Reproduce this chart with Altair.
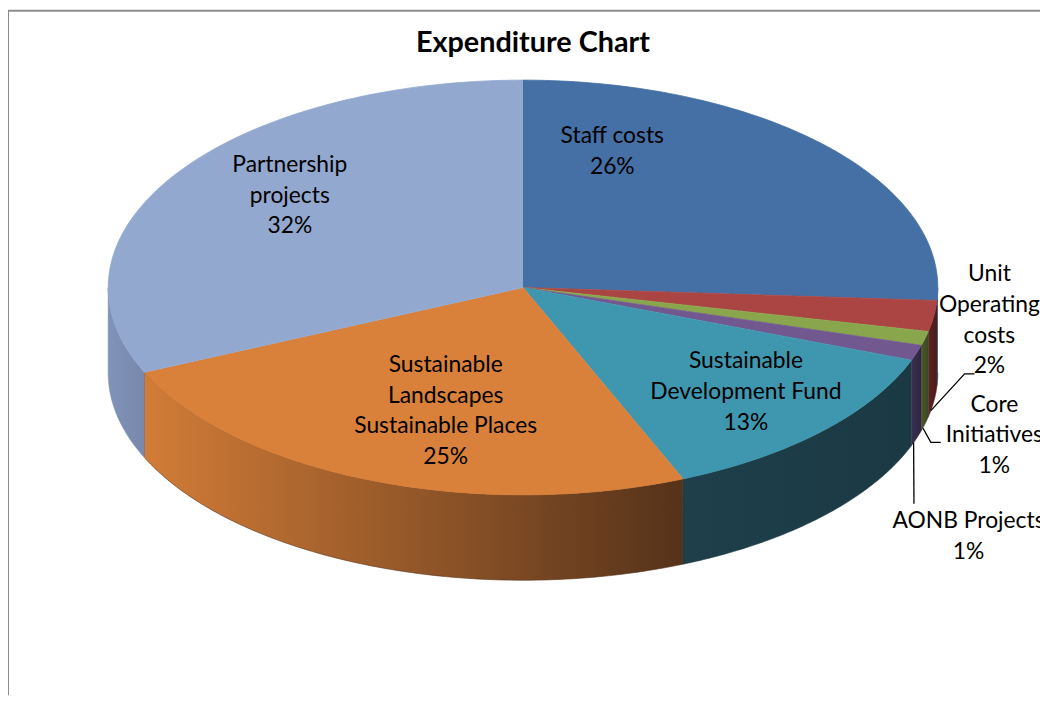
import altair as alt
import pandas as pd

# ---------------- data ----------------
categories = [
    "Staff costs",
    "Unit Operating costs",
    "Core Initiatives",
    "AONB Projects",
    "Sustainable Development Fund",
    "Sustainable Landscapes Sustainable Places",
    "Partnership projects",
]
# shares in %, estimated from the slice boundaries (labels show them rounded)
values = [26.0, 2.4, 1.1, 1.2, 13.0, 24.6, 31.7]
label_text = [
    "Staff costs",
    "Unit\nOperating\ncosts",
    "Core\nInitiatives",
    "AONB Projects",
    "Sustainable\nDevelopment Fund",
    "Sustainable\nLandscapes\nSustainable Places",
    "Partnership\nprojects",
]

# ---------------- layout / style ----------------
W, H = 1040, 690
CX, CY, RX, RY, DEPTH = 519, 279, 418, 209, 86
N = 90
F = 0.63
FONT = "Lato"
FS = 23
LH = 31

top_colors = ["#4470A6", "#AA4543", "#8AA64C", "#71588F", "#3E97AF", "#D9803A", "#93A8CF"]
wall_colors = {
    "Staff costs": ("#2E4B70", "#2A4467"),
    "Unit Operating costs": ("#5A2220", "#4A1C1B"),
    "Core Initiatives": ("#4A5A2A", "#3A4722"),
    "AONB Projects": ("#3A2F52", "#2D2540"),
    "Sustainable Development Fund": ("#1E3F4B", "#1B3943"),
    "Sustainable Landscapes Sustainable Places": ("#D27C37", "#55321A"),
    "Partnership projects": ("#8093B8", "#7788AC"),
}
inside_nudge = {
    "Staff costs": (-102, -47),
    "Partnership projects": (-14, -21),
    "Sustainable Landscapes Sustainable Places": (19, 2),
    "Sustainable Development Fund": (35, 14),
}
outside = ["Unit Operating costs", "Core Initiatives", "AONB Projects"]
out_anchor = {
    "Unit Operating costs": (989, 312),
    "Core Initiatives": (994, 428),
    "AONB Projects": (968, 530),
}
leader_offsets = {
    "Unit Operating costs": ((-25, 54), (-15, 54)),
    "Core Initiatives": ((-64, 7), (-54, 7)),
    "AONB Projects": ((-55, -33), (-55, -33)),
}

df = pd.DataFrame({
    "category": categories,
    "value": values,
    "lbl": label_text,
    "idx": list(range(len(categories))),
})

xs = alt.Scale(domain=[0, W], nice=False, zero=False)
ys = alt.Scale(domain=[0, H], nice=False, zero=False, reverse=True)
X = alt.X("px:Q", scale=xs, axis=None)
Y = alt.Y("py:Q", scale=ys, axis=None)
top_scale = alt.Scale(domain=categories, range=top_colors)

base = (
    alt.Chart(df)
    .transform_joinaggregate(total="sum(value)")
    .transform_window(cum="sum(value)", sort=[alt.SortField("idx", order="ascending")], frame=[None, 0])
    .transform_calculate(t1="2*PI*datum.cum/datum.total")
    .transform_calculate(t0="datum.t1 - 2*PI*datum.value/datum.total")
    .transform_calculate(mid="(datum.t0 + datum.t1)/2")
)

layers = []

# ---- side walls (front half of the disc) ----
wall_base = (
    base.transform_calculate(a0="max(datum.t0, PI/2)")
    .transform_calculate(a1="min(datum.t1, 3*PI/2)")
    .transform_filter("datum.a1 > datum.a0")
    .transform_calculate(ks=f"sequence(0, {2 * N + 2})")
    .transform_flatten(["ks"], as_=["k"])
    .transform_calculate(fr=f"datum.k <= {N} ? datum.k / {N} : ({2 * N + 1} - datum.k) / {N}")
    .transform_calculate(t="datum.a0 + (datum.a1 - datum.a0) * datum.fr")
    .transform_calculate(px=f"{CX} + {RX} * sin(datum.t)")
    .transform_calculate(py=f"{CY} - {RY} * cos(datum.t) + (datum.k <= {N} ? 0 : {DEPTH})")
)
for cat in categories:
    c0, c1 = wall_colors[cat]
    grad = {
        "gradient": "linear", "x1": 0, "y1": 0, "x2": 1, "y2": 0,
        "stops": [{"offset": 0, "color": c0}, {"offset": 1, "color": c1}],
    }
    layers.append(
        wall_base.transform_filter(alt.datum.category == cat)
        .mark_line(filled=True, fill=grad, stroke=c1, strokeWidth=0.6)
        .encode(x=X, y=Y, order=alt.Order("k:Q"))
    )

# ---- top faces ----
top = (
    base.transform_calculate(ks=f"sequence(0, {N + 2})")
    .transform_flatten(["ks"], as_=["k"])
    .transform_calculate(t=f"datum.t0 + (datum.t1 - datum.t0) * (datum.k - 1) / {N}")
    .transform_calculate(px=f"datum.k == 0 ? {CX} : {CX} + {RX} * sin(datum.t)")
    .transform_calculate(py=f"datum.k == 0 ? {CY} : {CY} - {RY} * cos(datum.t)")
    .mark_line(filled=True, strokeWidth=0.8)
    .encode(
        x=X, y=Y, order=alt.Order("k:Q"),
        color=alt.Color("category:N", scale=top_scale, legend=None),
        stroke=alt.Stroke("category:N", scale=top_scale, legend=None),
    )
)
layers.append(top)

# ---- labels ----
lab_base = (
    base.transform_calculate(txt="datum.lbl + '\\n' + format(datum.value / datum.total, '.0%')")
    .transform_calculate(nl="length(split(datum.txt, '\\n'))")
)
for cat, (dx, dy) in inside_nudge.items():
    layers.append(
        lab_base.transform_filter(alt.datum.category == cat)
        .transform_calculate(px=f"{CX} + {RX * F} * sin(datum.mid)")
        .transform_calculate(py=f"{CY} - {RY * F} * cos(datum.mid) - (datum.nl - 1) * {LH / 2}")
        .mark_text(font=FONT, fontSize=FS, lineBreak="\n", lineHeight=LH, dx=dx, dy=dy,
                   align="center", baseline="middle", color="#000000")
        .encode(x=X, y=Y, text="txt:N")
    )

for cat in outside:
    ax, ay = out_anchor[cat]
    layers.append(
        lab_base.transform_filter(alt.datum.category == cat)
        .transform_calculate(px=f"{ax}")
        .transform_calculate(py=f"{ay} - (datum.nl - 1) * {LH / 2}")
        .mark_text(font=FONT, fontSize=FS, lineBreak="\n", lineHeight=LH,
                   align="center", baseline="middle", color="#000000")
        .encode(x=X, y=Y, text="txt:N")
    )
    (d1x, d1y), (d2x, d2y) = leader_offsets[cat]
    layers.append(
        base.transform_filter(alt.datum.category == cat)
        .transform_calculate(la="datum.t0 + 0.8 * (datum.t1 - datum.t0)")
        .transform_calculate(ks="sequence(0, 3)")
        .transform_flatten(["ks"], as_=["k"])
        .transform_calculate(
            px=f"datum.k == 0 ? {CX} + {RX} * sin(datum.la) : (datum.k == 1 ? {ax + d1x} : {ax + d2x})")
        .transform_calculate(
            py=f"datum.k == 0 ? {CY} - {RY} * cos(datum.la) + {DEPTH} : (datum.k == 1 ? {ay + d1y} : {ay + d2y})")
        .mark_line(color="#000000", strokeWidth=1.3)
        .encode(x=X, y=Y, order=alt.Order("k:Q"))
    )

# ---- title and frame ----
one = alt.Chart(alt.Data(values=[{"t": "Expenditure Chart"}]))
layers.append(
    one.mark_text(font=FONT, fontSize=29, fontWeight="bold", align="center", baseline="middle", color="#000000")
    .encode(x=alt.value(529), y=alt.value(33), text="t:N")
)
layers.append(one.mark_rule(color="#8C8C8C", strokeWidth=2).encode(x=alt.value(0), y=alt.value(0), y2=alt.value(H)))
layers.append(one.mark_rule(color="#8C8C8C", strokeWidth=2).encode(y=alt.value(0), x=alt.value(0), x2=alt.value(W)))

chart = (
    alt.layer(*layers)
    .properties(width=W, height=H, padding=0, autosize=alt.AutoSizeParams(type="none"), background="white")
    .configure_view(stroke="transparent")
)

chart.save("out.html", embed_options={"renderer": "svg", "actions": False})
